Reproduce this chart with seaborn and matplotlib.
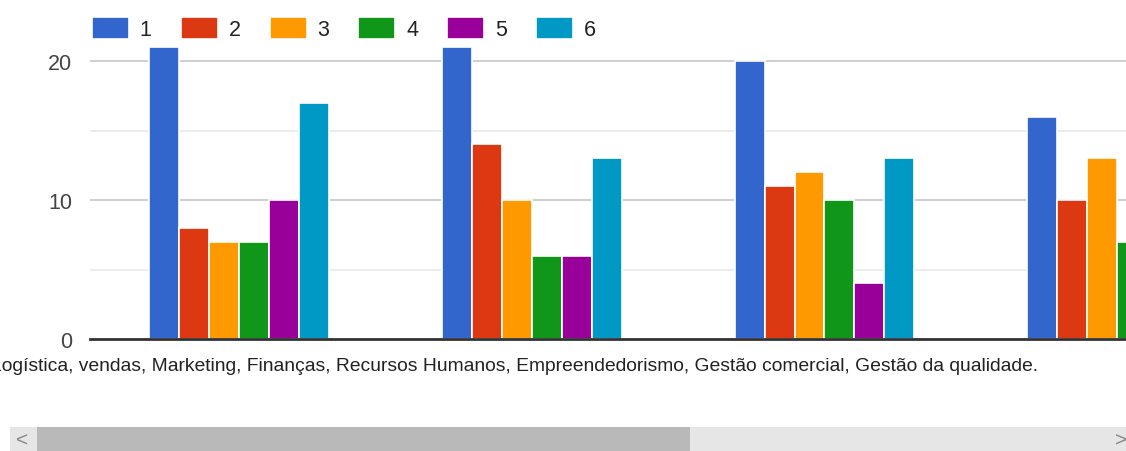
import matplotlib
matplotlib.use("Agg")
import matplotlib.pyplot as plt
from matplotlib.patches import Rectangle
from matplotlib.transforms import ScaledTranslation
import seaborn as sns
import pandas as pd
import numpy as np

# ---- data ----
groups = ["g1", "g2", "g3", "g4"]
tick_labels = ["", "Logística, vendas, Marketing, Finanças, Recursos Humanos, Empreendedorismo, Gestão comercial, Gestão da qualidade.", "", ""]
series = ["1", "2", "3", "4", "5", "6"]
s1 = [21, 21, 20, 16]
s2 = [8, 14, 11, 10]
s3 = [7, 10, 12, 13]
s4 = [7, 6, 10, 7]
s5 = [10, 6, 4, np.nan]
s6 = [17, 13, 13, np.nan]
colors = ["#3366cc", "#dc3912", "#ff9900", "#109618", "#990099", "#0099c6"]

rows = []
for name, vals in zip(series, [s1, s2, s3, s4, s5, s6]):
    for g, v in zip(groups, vals):
        rows.append({"grupo": g, "serie": name, "valor": v})
df = pd.DataFrame(rows)

sns.set_theme(style="white")
plt.rcParams["font.family"] = ["Liberation Sans", "DejaVu Sans"]

W, H = 1126, 452
fig = plt.figure(figsize=(W / 100, H / 100), dpi=100)
ax_left, ax_right = 90, 1126
ax_bottom, ax_top = 340, 6.4
ax = fig.add_axes([ax_left / W, 1 - ax_bottom / H, (ax_right - ax_left) / W, (ax_bottom - ax_top) / H])

sns.barplot(data=df, x="grupo", y="valor", hue="serie", order=groups, hue_order=series,
            palette=colors, width=0.614, edgecolor="white", linewidth=1.2,
            saturation=1, ax=ax, legend=True, zorder=3)

ax.set_xlim(-0.509, 3.03)
ax.set_ylim(0, 24)
ax.set_yticks([0, 10, 20])
ax.set_yticks([5, 15], minor=True)
ax.grid(axis="y", which="major", color="#cccccc", linewidth=1.3, zorder=0)
ax.grid(axis="y", which="minor", color="#ebebeb", linewidth=1.3, zorder=0)
ax.set_axisbelow(True)
for s in ["top", "right", "left"]:
    ax.spines[s].set_visible(False)
ax.spines["bottom"].set_color("#333333")
ax.spines["bottom"].set_linewidth(2)
ax.spines["bottom"].set_zorder(5)
ax.tick_params(axis="both", which="both", length=0)
ax.tick_params(axis="y", labelsize=15.5, labelcolor="#444444", pad=13)
ax.set_xlabel("")
ax.set_ylabel("")
ax.set_xticks(range(len(groups)))
ax.set_xticklabels(tick_labels, fontsize=13.9, color="#222222")
ax.tick_params(axis="x", pad=13)
for lab in ax.get_xticklabels():
    lab.set_transform(lab.get_transform() + ScaledTranslation(-0.17, 0, fig.dpi_scale_trans))

handles, labels = ax.get_legend_handles_labels()
ax.legend(handles, labels, ncol=6, loc="upper left", frameon=False,
          bbox_to_anchor=(92 / W, 1 - 18 / H), bbox_transform=fig.transFigure,
          fontsize=15.5, handlelength=1.72, handleheight=1.2, handletextpad=0.5,
          columnspacing=1.35, borderpad=0, borderaxespad=0, labelcolor="#222222")

# scrollbar decoration
fig.add_artist(Rectangle((10 / W, 0), (W - 10) / W, 24 / H, transform=fig.transFigure,
                         facecolor="#e6e6e6", edgecolor="none"))
fig.add_artist(Rectangle((37 / W, 0), (690 - 37) / W, 24 / H, transform=fig.transFigure,
                         facecolor="#b9b9b9", edgecolor="none"))
fig.text(22 / W, 11 / H, "<", ha="center", va="center", fontsize=15, color="#888888")
fig.text(1121 / W, 11 / H, ">", ha="center", va="center", fontsize=15, color="#888888")

fig.savefig("out.png", dpi=100, facecolor="white")
